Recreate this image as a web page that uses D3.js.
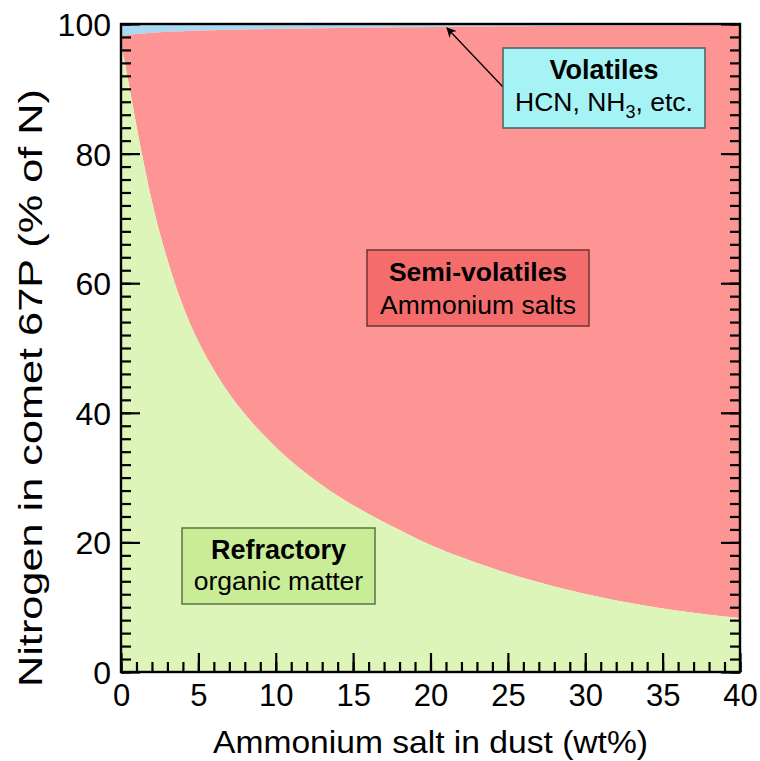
<!DOCTYPE html>
<html><head><meta charset="utf-8">
<script src="https://cdn.jsdelivr.net/npm/d3@7"></script>
<style>
html,body{margin:0;padding:0;background:#fff;}
svg{display:block;font-family:"Liberation Sans",Arial,sans-serif;}
</style></head>
<body><svg id="chart" width="760" height="761"></svg>
<script>
// Ammonium salt in dust (wt%)
const saltWt = [0,0.25,0.5,1,1.5,2,3,4,5,6,7,8,9,10,12,14,16,18,20,22,24,26,28,30,32,34,36,38,40];
// Upper edge of refractory N (% of N)
const refractoryN = [96.8,94,90.8,84.3,78.2,72.6,63.6,56.5,51,46.6,42.9,39.8,37.1,34.7,30.6,27.2,24.4,21.9,19.6,17.7,16.0,14.5,13.2,12.05,11.05,10.2,9.45,8.85,8.35];
// Upper edge of semi-volatile N (refractory + semi-volatile, % of N)
const nonVolatileN = [98.2,98.25,98.3,98.45,98.55,98.65,98.8,98.9,99.0,99.05,99.1,99.15,99.2,99.25,99.32,99.4,99.45,99.5,99.55,99.6,99.63,99.66,99.69,99.72,99.74,99.76,99.78,99.8,99.82];
const xTicks = [0,5,10,15,20,25,30,35,40];
const yTicks = [0,20,40,60,80,100];

const svg = d3.select("#chart");
const m = {l:121, t:24, r:740, b:672};
const x = d3.scaleLinear().domain([0,40]).range([m.l, m.r]);
const y = d3.scaleLinear().domain([0,100]).range([m.b, m.t]);

const rows = saltWt.map((s,i)=>({s, r:refractoryN[i], n:nonVolatileN[i]}));
const curve = d3.curveMonotoneX;

svg.append("path").datum(rows).attr("fill","#a9d8f2")
  .attr("d", d3.area().curve(curve).x(d=>x(d.s)).y0(d=>y(d.n)).y1(()=>y(100)));
svg.append("path").datum(rows).attr("fill","#fd9595")
  .attr("d", d3.area().curve(curve).x(d=>x(d.s)).y0(d=>y(d.r)).y1(d=>y(d.n)));
svg.append("path").datum(rows).attr("fill","#def5ba")
  .attr("d", d3.area().curve(curve).x(d=>x(d.s)).y0(()=>y(0)).y1(d=>y(d.r)));

function styleAxis(g){
  g.select(".domain").remove();
  g.selectAll("line").attr("stroke","#000").attr("stroke-width",2.2);
}
// minor ticks
svg.append("g").attr("transform",`translate(${m.l},0)`)
  .call(d3.axisLeft(y).tickValues(d3.range(0,101,2)).tickSize(-10).tickFormat("")).call(styleAxis);
svg.append("g").attr("transform",`translate(${m.r},0)`)
  .call(d3.axisRight(y).tickValues(d3.range(0,101,2)).tickSize(-10).tickFormat("")).call(styleAxis);
svg.append("g").attr("transform",`translate(0,${m.b})`)
  .call(d3.axisBottom(x).tickValues(d3.range(0,41,1)).tickSize(-10).tickFormat("")).call(styleAxis);
// major ticks
svg.append("g").attr("transform",`translate(${m.r},0)`)
  .call(d3.axisRight(y).tickValues(yTicks).tickSize(-19).tickFormat("")).call(styleAxis);
const gl = svg.append("g").attr("transform",`translate(${m.l},0)`)
  .call(d3.axisLeft(y).tickValues(yTicks).tickSize(-19).tickPadding(10).tickFormat(d3.format("d"))).call(styleAxis);
gl.selectAll("text").attr("font-size",32).attr("fill","#000").attr("font-family","Liberation Sans, Arial, sans-serif").attr("dy","0.36em");
const gb = svg.append("g").attr("transform",`translate(0,${m.b})`)
  .call(d3.axisBottom(x).tickValues(xTicks).tickSize(-19).tickPadding(12).tickFormat(d3.format("d"))).call(styleAxis);
gb.selectAll("text").attr("font-size",31).attr("fill","#000").attr("font-family","Liberation Sans, Arial, sans-serif");

// frame
svg.append("rect").attr("x",m.l).attr("y",m.t).attr("width",m.r-m.l).attr("height",m.b-m.t)
  .attr("fill","none").attr("stroke","#000").attr("stroke-width",2.4);

// axis titles
svg.append("text").attr("x",(m.l+m.r)/2).attr("y",753).attr("text-anchor","middle")
  .attr("font-size",32).attr("textLength",435).attr("lengthAdjust","spacingAndGlyphs")
  .text("Ammonium salt in dust (wt%)");
svg.append("text").attr("transform","translate(42,388) rotate(-90)").attr("text-anchor","middle")
  .attr("font-size",33).attr("textLength",598).attr("lengthAdjust","spacingAndGlyphs")
  .text("Nitrogen in comet 67P (% of N)");

// label boxes
function box(x0,y0,x1,y1,fill,stroke){
  svg.append("rect").attr("x",x0).attr("y",y0).attr("width",x1-x0).attr("height",y1-y0)
    .attr("fill",fill).attr("stroke",stroke).attr("stroke-width",1.5);
}
// arrow
svg.append("defs").append("marker").attr("id","ah").attr("viewBox","0 0 10 10").attr("refX",9).attr("refY",5)
  .attr("markerWidth",10).attr("markerHeight",10).attr("markerUnits","userSpaceOnUse").attr("orient","auto")
  .append("path").attr("d","M0,0L10,5L0,10L3,5Z").attr("fill","#000");
svg.append("line").attr("x1",503).attr("y1",87).attr("x2",447).attr("y2",28)
  .attr("stroke","#000").attr("stroke-width",1.3).attr("marker-end","url(#ah)");

box(503,48,705,128,"#a6f3f6","#4d5f60");
svg.append("text").attr("x",604).attr("y",79).attr("text-anchor","middle").attr("font-size",27).attr("font-weight","bold")
  .text("Volatiles");
const t2 = svg.append("text").attr("x",604).attr("y",111).attr("text-anchor","middle").attr("font-size",26.5);
t2.append("tspan").text("HCN, NH");
t2.append("tspan").attr("font-size",18).attr("dy",7).text("3");
t2.append("tspan").attr("dy",-7).text(", etc.");

box(367,250,589,326,"#f46d6c","#6e3434");
svg.append("text").attr("x",478).attr("y",281).attr("text-anchor","middle").attr("font-size",26.5).attr("font-weight","bold")
  .text("Semi-volatiles");
svg.append("text").attr("x",478).attr("y",314).attr("text-anchor","middle").attr("font-size",26.5)
  .text("Ammonium salts");

box(182,528,375,604,"#c9ec97","#5f7048");
svg.append("text").attr("x",278.5).attr("y",559).attr("text-anchor","middle").attr("font-size",27).attr("font-weight","bold")
  .text("Refractory");
svg.append("text").attr("x",278.5).attr("y",590).attr("text-anchor","middle").attr("font-size",26.5)
  .text("organic matter");
</script></body></html>
